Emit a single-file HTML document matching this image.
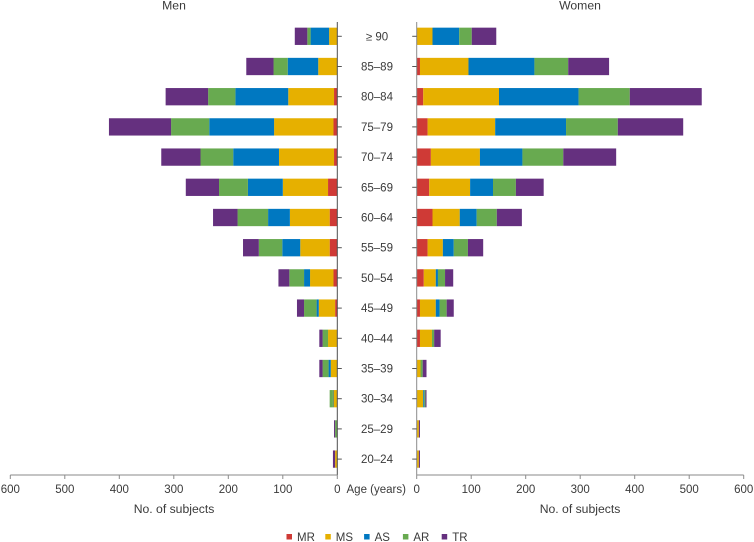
<!DOCTYPE html>
<html>
<head>
<meta charset="utf-8">
<style>
html,body{margin:0;padding:0;background:#fff;width:754px;height:542px;overflow:hidden}
svg{display:block}
text{font-family:"Liberation Sans","DejaVu Sans",sans-serif;fill:#3a3a3a;font-size:11.5px}
text.axis-title{font-size:12.2px}
</style>
</head>
<body>
<svg id="chart" width="754" height="542" viewBox="0 0 754 542" xmlns="http://www.w3.org/2000/svg"></svg>
<script>
const ageGroups = ['≥ 90','85–89','80–84','75–79','70–74','65–69','60–64','55–59','50–54','45–49','40–44','35–39','30–34','25–29','20–24'];
const seriesNames = ['MR','MS','AS','AR','TR'];
const seriesColors = ['#cf3a36','#e6b000','#0078c1','#68aa50','#65307f'];
const ticks = [0,100,200,300,400,500,600];

const menMR = [0,0,6,7,6,17,14,14,7,4,0,0,0,0,0];
const menMS = [15,35,84,109,101,83,73,54,43,30,17,12,7,0,4];
const menAS = [34,56,97,119,84,64,40,33,11,4,0,4,1,0,0];
const menAR = [6,26,50,70,60,53,56,43,27,23,10,11,6,4,0];
const menTR = [23,50,78,114,72,61,45,29,20,13,6,6,0,2,4];

const womenMR = [0,6,12,20,26,23,29,20,13,6,6,0,0,0,0];
const womenMS = [29,89,139,124,90,75,50,28,22,29,22,7,12,4,4];
const womenAS = [49,121,146,130,78,42,31,20,4,7,0,0,2,0,0];
const womenAR = [23,62,94,95,75,42,37,26,13,13,4,4,2,0,0];
const womenTR = [45,75,132,120,97,51,46,28,15,13,12,7,2,2,2];

const svg = document.getElementById('chart');
const NS = 'http://www.w3.org/2000/svg';
const SCALE = 327 / 600;
const X_MEN = 337.3, X_WOMEN = 416.7;
const xMen = v => X_MEN - v * SCALE;
const xWomen = v => X_WOMEN + v * SCALE;
const yRow = i => 36.3 + i * 30.2;
const BAR_H = 17.3, AXIS_TOP = 22, AXIS_BOTTOM = 475;

function add(tag, attrs, text) {
  const el = document.createElementNS(NS, tag);
  for (const k in attrs) el.setAttribute(k, attrs[k]);
  if (text !== undefined) el.textContent = text;
  svg.appendChild(el);
  return el;
}
function slug(s) {
  return s.replace(/[^0-9a-zA-Z]+/g, '-').replace(/^-|-$/g, '');
}

const menSeries = [menMR, menMS, menAS, menAR, menTR];
const womenSeries = [womenMR, womenMS, womenAS, womenAR, womenTR];

function drawBars(series, xFn, side) {
  ageGroups.forEach((age, i) => {
    let acc = 0;
    series.forEach((vals, s) => {
      const v = vals[i];
      const a = xFn(acc), b = xFn(acc + v);
      acc += v;
      if (v <= 0) return;
      const r = add('rect', {x: Math.min(a, b), y: yRow(i) - BAR_H / 2, width: Math.abs(b - a), height: BAR_H, fill: seriesColors[s]});
      
      
    });
  });
}
drawBars(menSeries, xMen, 'men');
drawBars(womenSeries, xWomen, 'women');

function line(x1, y1, x2, y2, stroke, name) {
  const l = add('line', {x1, y1, x2, y2, stroke, 'stroke-width': 1});
  
  
}
line(X_MEN, AXIS_TOP, X_MEN, AXIS_BOTTOM, '#4d4d4d', 'men-category-axis');
line(X_WOMEN, AXIS_TOP, X_WOMEN, AXIS_BOTTOM, '#8a8a8a', 'women-category-axis');
line(xMen(600), AXIS_BOTTOM, X_MEN, AXIS_BOTTOM, '#8a8a8a', 'men-value-axis');
line(X_WOMEN, AXIS_BOTTOM, xWomen(600), AXIS_BOTTOM, '#8a8a8a', 'women-value-axis');

ageGroups.forEach((age, i) => {
  const y = yRow(i);
  line(X_MEN, y, X_MEN + 4.5, y, '#555', 'men-tick-' + slug(age));
  line(X_WOMEN - 4.5, y, X_WOMEN, y, '#555', 'women-tick-' + slug(age));
  const t = add('text', {x: 377, y: y + 4, 'text-anchor': 'middle'}, age);
  
  
});

ticks.forEach(v => {
  line(xMen(v), AXIS_BOTTOM, xMen(v), AXIS_BOTTOM + 4, '#8a8a8a', 'men-x-tick-' + v);
  line(xWomen(v), AXIS_BOTTOM, xWomen(v), AXIS_BOTTOM + 4, '#8a8a8a', 'women-x-tick-' + v);
  const a = add('text', {x: xMen(v), y: 493, 'text-anchor': 'middle'}, String(v));
  
  
  const b = add('text', {x: xWomen(v), y: 493, 'text-anchor': 'middle'}, String(v));
  
  
});

function label(x, y, anchor, str, name, cls) {
  const t = add('text', {x, y, 'text-anchor': anchor}, str);
  if (cls) t.setAttribute('class', cls);
  
  
}
label(174, 9.5, 'middle', 'Men', 'men-panel-title', 'axis-title');
label(580, 9.5, 'middle', 'Women', 'women-panel-title', 'axis-title');
label(174, 513, 'middle', 'No. of subjects', 'men-x-axis-title', 'axis-title');
label(580, 513, 'middle', 'No. of subjects', 'women-x-axis-title', 'axis-title');
label(346.5, 493, 'start', 'Age (years)', 'age-axis-title');

const legendStart = 286.5, legendStep = 38.8;
seriesNames.forEach((n, i) => {
  const x = legendStart + i * legendStep;
  const r = add('rect', {x, y: 534, width: 5.5, height: 5.5, fill: seriesColors[i]});
  
  
  const t = add('text', {x: x + 10.5, y: 541}, n);
  
  
});
</script>
</body>
</html>
